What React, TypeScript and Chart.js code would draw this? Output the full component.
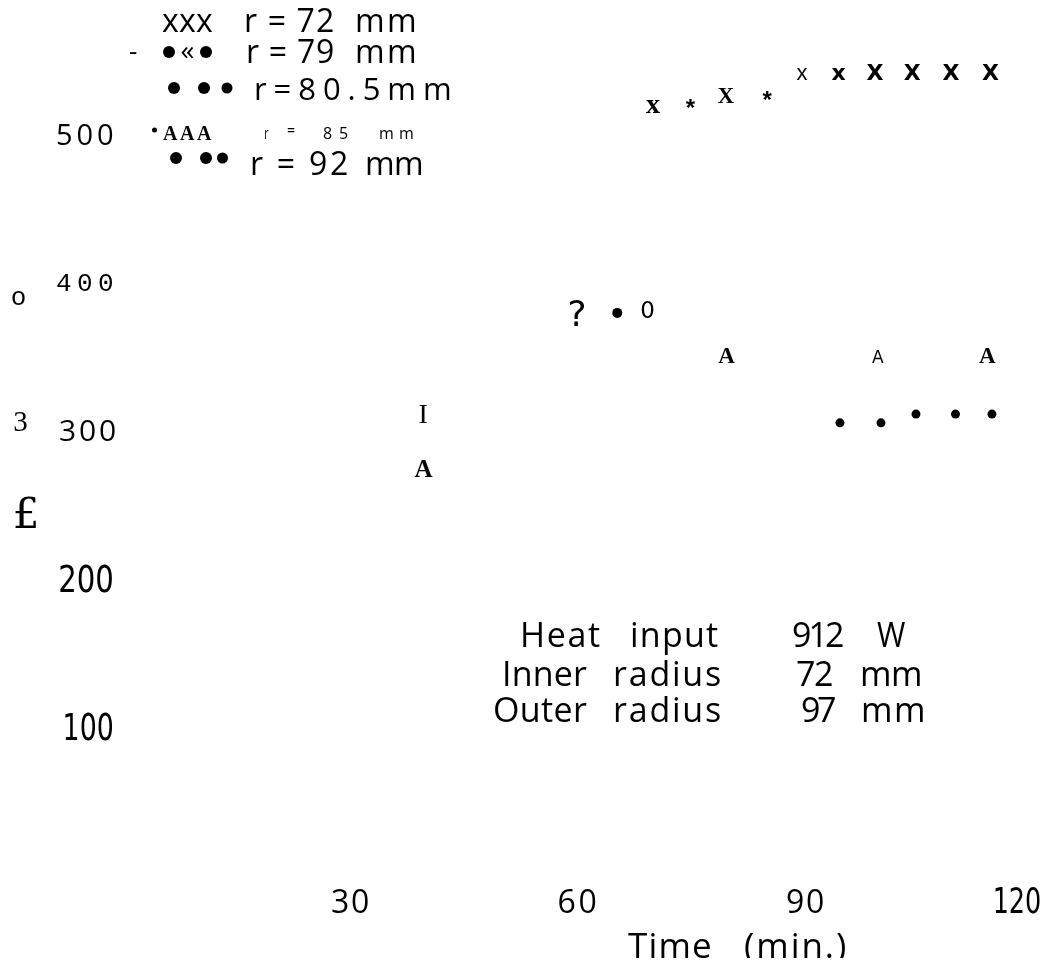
import React, { useEffect, useRef } from "react";
import { Chart, registerables } from "chart.js";

Chart.register(...registerables);

// ---------- data ----------
const r72Time = [70.0, 74.9, 79.6, 85.0, 89.6, 94.4, 99.2, 104.1, 109.2, 114.4];
const r72Temp = [518.7, 520.7, 526.1, 526.1, 540.3, 540.3, 541.6, 541.6, 541.6, 541.6];
const r72Glyphs = ["x", "*", "X", "*", "x", "x", "X", "X", "X", "X"];

const r79Time = [60.0, 65.3, 69.3];
const r79Temp = [378.9, 379.3, 381.6];
const r79Glyphs = ["?", "•", "0"];

const r805Time = [39.8];
const r805Temp = [311.4];
const r805Glyphs = ["I"];

const r85Time = [39.8, 79.7, 99.6, 114.0];
const r85Temp = [274.3, 350.8, 350.1, 350.8];
const r85Glyphs = ["A", "A", "A", "A"];

const r92Time = [94.6, 100.0, 104.6, 109.8, 114.6];
const r92Temp = [305.1, 305.1, 311.0, 311.0, 311.0];
const r92Glyphs = ["•", "•", "•", "•", "•"];

const xTickValues = [30, 60, 90, 120];
const xTickLabels = ["30", "60", "90", "120"];
const yTickValues = [500, 400, 300, 200, 100];
const yTickLabels = ["500", "400", "300", "200", "100"];

const seriesLabels = ["r = 72  mm", "r = 79  mm", "r=80.5mm", "r  =  85  mm", "r = 92 mm"];
const yTitleFragments = ["o", "3", "£"];
const xTitle = ["Time", "(min.)"];
const noteRows = [
  ["Heat", "input", "912", "W"],
  ["Inner", "radius", "72", "mm"],
  ["Outer", "radius", "97", "mm"],
];

// ---------- styles ----------
const OFF = 8; // body margin; layout values below are page coordinates
const SANS = '"Open Sans", "Noto Sans", sans-serif';
const MONO = '"Liberation Mono", "DejaVu Sans Mono", monospace';
const SERIF = '"Liberation Serif", "DejaVu Serif", serif';
const NARROW = '"Liberation Sans Narrow", "DejaVu Sans Condensed", "Liberation Sans", sans-serif';

const glyphFonts: Record<string, string[]> = {
  r72: [
    `bold 28px ${SERIF}`, `bold 24px ${MONO}`, `bold 23px ${SERIF}`, `bold 24px ${MONO}`,
    `22px "Liberation Sans"`, `bold 22px "DejaVu Sans"`, `bold 22px "DejaVu Sans"`,
    `bold 22px "DejaVu Sans"`, `bold 22px "DejaVu Sans"`, `bold 22px "DejaVu Sans"`,
  ],
  r79: [`36px "DejaVu Sans"`, "", `23px "DejaVu Sans"`],
  r805: [`28px ${SERIF}`],
  r85: [`bold 25px ${SERIF}`, `bold 23px ${SERIF}`, `17px "DejaVu Sans"`, `bold 23px ${SERIF}`],
  r92: ["", "", "", "", ""],
};

function fitText(
  ctx: CanvasRenderingContext2D,
  text: string,
  font: string,
  x0: number,
  x1: number,
  baseline: number,
  mode: "space" | "scale" = "space"
) {
  ctx.save();
  ctx.font = font;
  ctx.textAlign = "left";
  ctx.textBaseline = "alphabetic";
  try { (ctx as any).letterSpacing = "0px"; } catch (e) {}
  const m = ctx.measureText(text);
  const L = m.actualBoundingBoxLeft;
  const w0 = L + m.actualBoundingBoxRight;
  const target = x1 - x0;
  const n = Array.from(text).length;
  if (mode === "scale" || n < 2) {
    const sx = w0 > 0 ? target / w0 : 1;
    ctx.translate(x0 - OFF, baseline - OFF);
    ctx.scale(sx, 1);
    ctx.fillText(text, L, 0);
  } else {
    const ls = (target - w0) / (n - 1);
    try { (ctx as any).letterSpacing = `${ls}px`; } catch (e) {}
    ctx.fillText(text, x0 - OFF + L, baseline - OFF);
  }
  ctx.restore();
}

function centerGlyph(ctx: CanvasRenderingContext2D, text: string, font: string, cx: number, cy: number) {
  ctx.save();
  ctx.font = font;
  ctx.textAlign = "left";
  ctx.textBaseline = "alphabetic";
  const m = ctx.measureText(text);
  const L = m.actualBoundingBoxLeft, R = m.actualBoundingBoxRight;
  const A = m.actualBoundingBoxAscent, D = m.actualBoundingBoxDescent;
  ctx.fillText(text, cx - (R - L) / 2, cy + (A - D) / 2);
  ctx.restore();
}

function centerFitY(
  ctx: CanvasRenderingContext2D, text: string, font: string, x0: number, x1: number, cyCanvas: number, mode: "space" | "scale"
) {
  ctx.save();
  ctx.font = font;
  const m = ctx.measureText(text);
  const A = m.actualBoundingBoxAscent, D = m.actualBoundingBoxDescent;
  ctx.restore();
  fitText(ctx, text, font, x0, x1, cyCanvas + OFF + (A - D) / 2, mode);
}

const yTickStyle = [
  { font: `29px ${SANS}`, x0: 57, x1: 113, mode: "space" },
  { font: `26px ${MONO}`, x0: 57, x1: 112, mode: "space" },
  { font: `30px ${SANS}`, x0: 60, x1: 115, mode: "space" },
  { font: `37px ${NARROW}`, x0: 60, x1: 112, mode: "scale" },
  { font: `37px ${NARROW}`, x0: 65, x1: 112, mode: "scale" },
];
const xTickStyle = [
  { font: `32px ${SANS}`, half: 18, dx: 1, mode: "space" },
  { font: `32px ${SANS}`, half: 18.5, dx: 0, mode: "space" },
  { font: `32px ${SANS}`, half: 18, dx: 0, mode: "space" },
  { font: `36px ${NARROW}`, half: 22.5, dx: -15.5, mode: "scale" },
];
const X_TICK_BASELINE = 913;

const glyphPlugin = {
  id: "glyphMarks",
  afterDatasetsDraw(chart: any) {
    const ctx: CanvasRenderingContext2D = chart.ctx;
    ctx.fillStyle = "#000";
    chart.data.datasets.forEach((ds: any, i: number) => {
      const meta = chart.getDatasetMeta(i);
      const fonts = glyphFonts[ds.key];
      meta.data.forEach((pt: any, j: number) => {
        const g = ds.glyphs[j];
        if (g === "•") return; // drawn by Chart.js as a circle point
        centerGlyph(ctx, g, fonts[j], pt.x, pt.y);
      });
    });
  },
};

const textPlugin = {
  id: "textLayer",
  afterDraw(chart: any) {
    const ctx: CanvasRenderingContext2D = chart.ctx;
    const xs = chart.scales.x, ys = chart.scales.y;
    ctx.save();
    ctx.fillStyle = "#000";

    // y tick labels
    yTickValues.forEach((v, i) => {
      const s = yTickStyle[i];
      centerFitY(ctx, yTickLabels[i], s.font, s.x0, s.x1, ys.getPixelForValue(v), s.mode as any);
    });
    // x tick labels
    xTickValues.forEach((v, i) => {
      const s = xTickStyle[i];
      const cx = xs.getPixelForValue(v) + OFF + s.dx;
      fitText(ctx, xTickLabels[i], s.font, cx - s.half, cx + s.half, X_TICK_BASELINE, s.mode as any);
    });
    // x title
    fitText(ctx, xTitle[0], `35px ${SANS}`, 628, 710, 958);
    fitText(ctx, xTitle[1], `35px ${SANS}`, 745, 845, 958);

    // y title fragments (as scanned)
    centerGlyph(ctx, yTitleFragments[0], `26px ${MONO}`, 18.3 - OFF, 298.3 - OFF);
    centerGlyph(ctx, yTitleFragments[1], `29px ${SERIF}`, 20.7 - OFF, 421.7 - OFF);
    centerGlyph(ctx, yTitleFragments[2], `42px "DejaVu Serif"`, 25.7 - OFF, 511.7 - OFF);

    // legend
    const dot = (x: number, y: number, r: number) => {
      ctx.beginPath();
      ctx.arc(x - OFF, y - OFF, r, 0, Math.PI * 2);
      ctx.fill();
    };
    fitText(ctx, "xxx", `32px ${SANS}`, 162, 213, 32);
    fitText(ctx, "r = 72", `32px ${SANS}`, 246, 333, 32);
    fitText(ctx, "mm", `32px ${SANS}`, 357, 415, 32);

    centerGlyph(ctx, "-", `26px ${SANS}`, 133.5 - OFF, 53 - OFF);
    dot(169, 52, 6);
    centerGlyph(ctx, "«", `28px ${SANS}`, 187.5 - OFF, 53 - OFF);
    dot(206, 52, 6);
    fitText(ctx, "r = 79", `32px ${SANS}`, 248, 333, 63);
    fitText(ctx, "mm", `32px ${SANS}`, 357, 415, 63);

    dot(174, 88, 6);
    dot(204, 88, 6);
    dot(227, 88, 5.5);
    fitText(ctx, seriesLabels[2], `31px ${SANS}`, 256, 450, 100);

    dot(154.5, 130, 2.5);
    fitText(ctx, "AAA", `bold 20px ${SERIF}`, 163, 212, 140);
    fitText(ctx, "r", `16px ${SANS}`, 265, 269, 139);
    fitText(ctx, "=", `16px ${SANS}`, 287, 295, 136);
    fitText(ctx, "85", `16px ${SANS}`, 323, 348, 139);
    fitText(ctx, "mm", `16px ${SANS}`, 380, 413, 139);

    dot(176, 158, 6);
    dot(206, 158, 6);
    dot(222.5, 158, 5.5);
    fitText(ctx, "r = 92", `32px ${SANS}`, 252, 347, 175);
    fitText(ctx, "mm", `32px ${SANS}`, 367, 422, 175);

    // note block
    const noteX = [
      [[523, 600], [632, 718], [793, 843], [877, 905]],
      [[505, 587], [615, 720], [797, 832], [862, 920]],
      [[495, 587], [615, 720], [802, 835], [863, 923]],
    ];
    const noteBase = [647, 686, 722];
    noteRows.forEach((row, r) => {
      row.forEach((word, c) => {
        fitText(ctx, word, `34px ${SANS}`, noteX[r][c][0], noteX[r][c][1], noteBase[r]);
      });
    });
    ctx.restore();
  },
};

function makeSet(key: string, t: number[], v: number[], glyphs: string[], dotR: number) {
  return {
    key,
    glyphs,
    data: t.map((x, i) => ({ x, y: v[i] })),
    pointRadius: glyphs.map((g) => (g === "•" ? dotR : 0)),
    pointHoverRadius: glyphs.map((g) => (g === "•" ? dotR : 0)),
    pointBackgroundColor: "#000",
    pointBorderWidth: 0,
    showLine: false,
    clip: false,
  } as any;
}

export default function App() {
  const ref = useRef<HTMLCanvasElement | null>(null);
  useEffect(() => {
    if (!ref.current) return;
    const chart = new Chart(ref.current, {
      type: "scatter",
      data: {
        datasets: [
          makeSet("r72", r72Time, r72Temp, r72Glyphs, 5),
          makeSet("r79", r79Time, r79Temp, r79Glyphs, 5),
          makeSet("r805", r805Time, r805Temp, r805Glyphs, 5),
          makeSet("r85", r85Time, r85Temp, r85Glyphs, 5),
          makeSet("r92", r92Time, r92Temp, r92Glyphs, 4.5),
        ],
      },
      options: {
        animation: false,
        responsive: false,
        events: [],
        layout: { padding: { left: 113, right: 11, top: 126, bottom: 83 } },
        scales: {
          x: { type: "linear", min: 0, max: 120, display: false },
          y: { type: "linear", min: 0, max: 500, display: false },
        },
        plugins: { legend: { display: false }, tooltip: { enabled: false } },
      },
      plugins: [glyphPlugin, textPlugin],
    });
    return () => chart.destroy();
  }, []);
  return <canvas ref={ref} width={1036} height={950} style={{ display: "block" }} />;
}
